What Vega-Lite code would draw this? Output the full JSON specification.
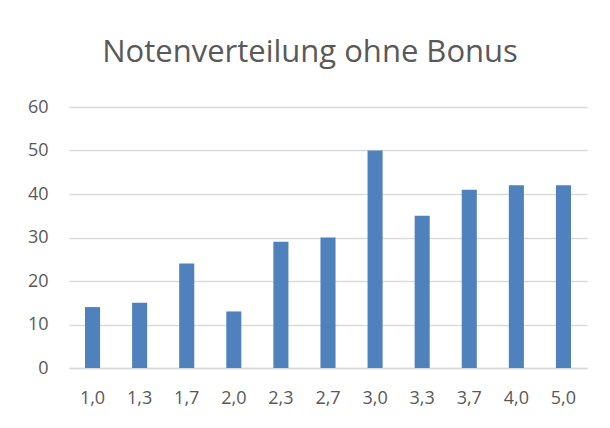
{
  "$schema": "https://vega.github.io/schema/vega-lite/v6.json",
  "width": 518,
  "height": 261,
  "autosize": {"type": "none"},
  "padding": {"left": 69, "top": 107, "right": 23, "bottom": 60},
  "background": "white",
  "title": {
    "text": "Notenverteilung ohne Bonus",
    "font": "Open Sans",
    "fontSize": 31,
    "fontWeight": "normal",
    "color": "#595959",
    "anchor": "middle",
    "frame": "group",
    "offset": 29,
    "dx": -18
  },
  "data": {
    "values": [
      {"note": "1,0", "anzahl": 14},
      {"note": "1,3", "anzahl": 15},
      {"note": "1,7", "anzahl": 24},
      {"note": "2,0", "anzahl": 13},
      {"note": "2,3", "anzahl": 29},
      {"note": "2,7", "anzahl": 30},
      {"note": "3,0", "anzahl": 50},
      {"note": "3,3", "anzahl": 35},
      {"note": "3,7", "anzahl": 41},
      {"note": "4,0", "anzahl": 42},
      {"note": "5,0", "anzahl": 42}
    ]
  },
  "mark": {"type": "bar", "color": "#4F81BD"},
  "encoding": {
    "x": {
      "field": "note",
      "type": "ordinal",
      "sort": null,
      "scale": {"paddingInner": 0.68, "paddingOuter": 0.34},
      "axis": {
        "title": null,
        "labelAngle": 0,
        "labelFont": "Open Sans",
        "labelFontSize": 18,
        "labelColor": "#595959",
        "labelPadding": 21,
        "ticks": false,
        "domainColor": "#D9D9D9",
        "domainWidth": 1.5
      }
    },
    "y": {
      "field": "anzahl",
      "type": "quantitative",
      "scale": {"domain": [0, 60]},
      "axis": {
        "title": null,
        "values": [0, 10, 20, 30, 40, 50, 60],
        "labelFont": "Open Sans",
        "labelFontSize": 18,
        "labelColor": "#595959",
        "labelPadding": 21,
        "ticks": false,
        "domain": false,
        "gridColor": "#D9D9D9",
        "gridWidth": 1.5
      }
    }
  },
  "config": {"view": {"stroke": null}}
}
